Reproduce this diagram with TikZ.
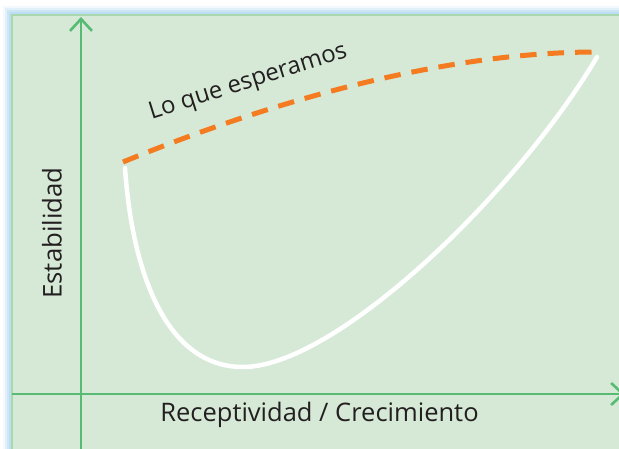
\documentclass[tikz,border=0pt]{standalone}
\usepackage{fontspec}
\setmainfont{Open Sans}
\usetikzlibrary{arrows.meta}
\definecolor{panelfill}{HTML}{D5E9D6}
\definecolor{panelrim}{HTML}{A9D8AE}
\definecolor{axisgreen}{HTML}{57BB74}
\definecolor{glowblue}{HTML}{B9DDF4}
\definecolor{hopeorange}{HTML}{F47B20}
\definecolor{labelgray}{HTML}{231F20}
\begin{document}
\begin{tikzpicture}[x=1pt,y=-1pt,>={Straight Barb[length=12pt,width=22pt,line width=2.6pt]}]
\useasboundingbox (0,0) rectangle (619,449);
\fill[white](0,0) rectangle (619,449);
% glow round the panel
\foreach \d/\o in {9/.15,7/.3,5/.5,3/.8}
  \fill[glowblue,opacity=\o](12-\d,15-\d) rectangle (640,470);
\filldraw[fill=panelfill,draw=panelrim,line width=2pt](12,15) rectangle (640,470);
% axes
\draw[->,axisgreen,line width=2.6pt](81,460)--(81,17);
\draw[->,axisgreen,line width=2.6pt](12,394)--(625,394);
\node[labelgray,font=\fontsize{25.8}{26}\selectfont,anchor=base,rotate=90](stab) at (61.5,233){Estabilidad};
\node[labelgray,font=\fontsize{25.5}{26}\selectfont,anchor=base](recep) at (319.5,421.5){Receptividad / Crecimiento};
% expected and real paths
\draw[hopeorange,line width=5pt,dash pattern=on 16.5pt off 11pt](123,162) .. controls (250,110) and (430,52) .. (597,52);
\draw[white,line width=4.5pt,line cap=round](125,168) .. controls (132,270) and (165,367) .. (243,367) .. controls (335,367) and (515,195) .. (597,57);
\node[labelgray,font=\fontsize{24}{24}\selectfont,anchor=base,rotate=17.5](hope) at (250,88){Lo que esperamos};
\end{tikzpicture}
\end{document}
